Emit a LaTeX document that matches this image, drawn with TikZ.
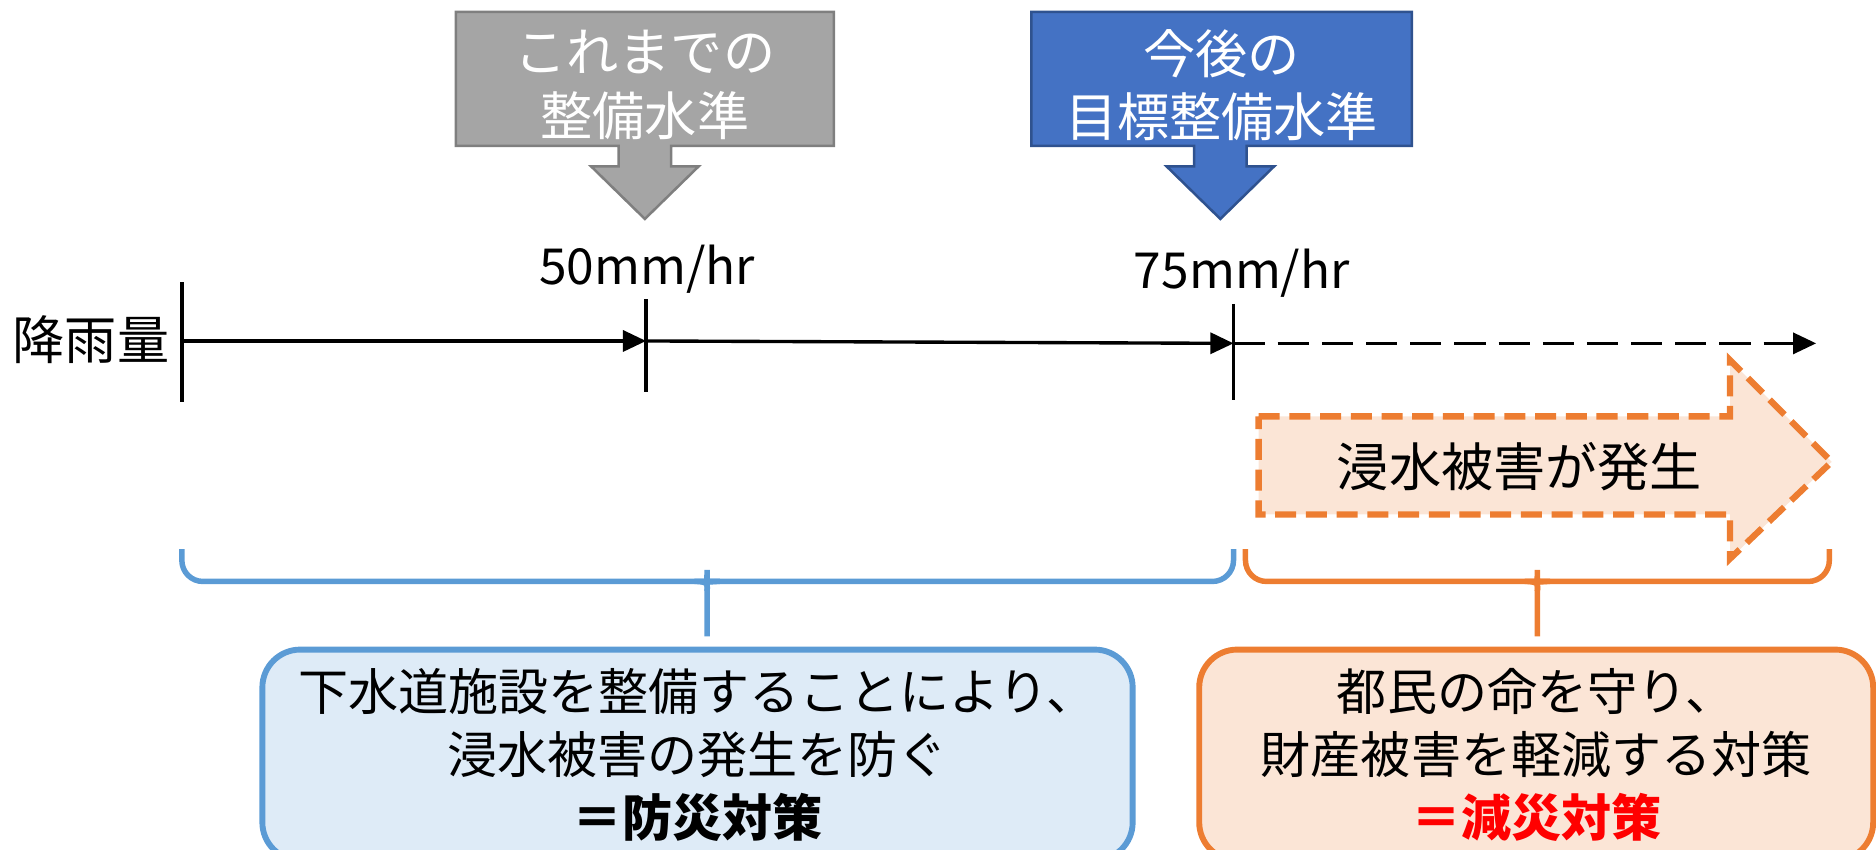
\documentclass[tikz,border=0pt]{standalone}
\usepackage{fontspec}
\setmainfont{Noto Sans CJK JP}
\usetikzlibrary{arrows.meta,calc}
\definecolor{pastgray}{HTML}{A5A5A5}
\definecolor{pastline}{HTML}{7F7F7F}
\definecolor{goalblue}{HTML}{4472C4}
\definecolor{goalline}{HTML}{2F528F}
\definecolor{skyline}{HTML}{5B9BD5}
\definecolor{skyfill}{HTML}{DEEBF7}
\definecolor{floodline}{HTML}{ED7D31}
\definecolor{floodfill}{HTML}{FBE5D6}
\begin{document}
\begin{tikzpicture}[x=0.01cm,y=-0.01cm,
jp/.style ={font=\fontsize{12.4}{15}\selectfont, inner sep=0pt},
level/.style ={align=center, text=white, inner sep=0pt,
  font=\fontsize{12.4}{15}\selectfont
},
rate/.style ={font=\fontsize{11.8}{14}\selectfont, inner sep=0pt},
axis/.style ={line width=0.8pt, -{Triangle[length=5.5pt,width=5pt]}},
tick/.style ={line width=0.8pt},
brace/.style ={line width=1.3pt, rounded corners=5pt},
result/.style ={rectangle, rounded corners=9pt, line width=1.4pt,
  align=center, minimum height=1.76cm,
  font=\fontsize{11.9}{14.9}\selectfont
}]
\useasboundingbox (0,0) rectangle (1568,710);

% levels
\draw[fill=pastgray, draw=pastline, line width=0.6pt] (381,10) -- (697,10) -- (697,122)
  -- (561,122) -- (561,139) -- (584,139) -- (539,183) -- (494,139) -- (517,139)
  -- (517,122) -- (381,122) -- cycle;
\node (past) at (539,71) [level] {これまでの\\整備水準};
\draw[fill=goalblue, draw=goalline, line width=0.6pt] (862,10) -- (1180,10) -- (1180,122)
  -- (1042,122) -- (1042,139) -- (1065,139) -- (1020,183) -- (975,139) -- (998,139)
  -- (998,122) -- (862,122) -- cycle;
\node (goal) at (1021,71) [level] {今後の\\目標整備水準};

% rainfall axis
\node (rain) at (76,284) [jp] {降雨量};
\coordinate (t0) at (152,285);
\coordinate (t50) at (540,285);
\coordinate (t75) at (1031,287);
\coordinate (tend) at (1518,287);
\draw[tick] (t0) ++(0,-49) -- ++(0,100);
\draw[tick] (t50) ++(0,-35) -- ++(0,78);
\draw[tick] (t75) ++(0,-33) -- ++(0,80);
\draw[axis] (t0) -- (t50);
\draw[axis] (t50) -- (t75);
\draw[axis, dash pattern=on 7.4pt off 3.1pt] (t75) -- (tend);
\node (r50) at (541,225) [rate] {50mm/hr};
\node (r75) at (1038,228) [rate] {75mm/hr};

% flood arrow
\draw[fill=floodfill, draw=floodline, line width=1.5pt, dash pattern=on 5pt off 2.3pt]
  (1052,348) -- (1446,348) -- (1446,301) -- (1531,386) -- (1446,467) -- (1446,430)
  -- (1052,430) -- cycle;
\node (flood) at (1270,390) [jp] {浸水被害が発生};

% braces
\draw[brace, skyline] (152,459) |- (584,486) to[out=0,in=90] (591,494) -- (591,532);
\draw[brace, skyline] (1031,459) |- (598,486) to[out=180,in=90] (591,494);
\draw[brace, floodline] (1041,459) |- (1278,486) to[out=0,in=90] (1285,494) -- (1285,532);
\draw[brace, floodline] (1529,459) |- (1292,486) to[out=180,in=90] (1285,494);

% measures
\node (prevent) at (583,631) [result, draw=skyline, fill=skyfill, minimum width=7.27cm]
  {下水道施設を整備することにより、\\浸水被害の発生を防ぐ\\\textbf{＝防災対策}};
\node (reduce) at (1284,631) [result, draw=floodline, fill=floodfill, minimum width=5.63cm]
  {都民の命を守り、\\財産被害を軽減する対策\\\textcolor{red}{\textbf{＝減災対策}}};
\end{tikzpicture}
\end{document}
